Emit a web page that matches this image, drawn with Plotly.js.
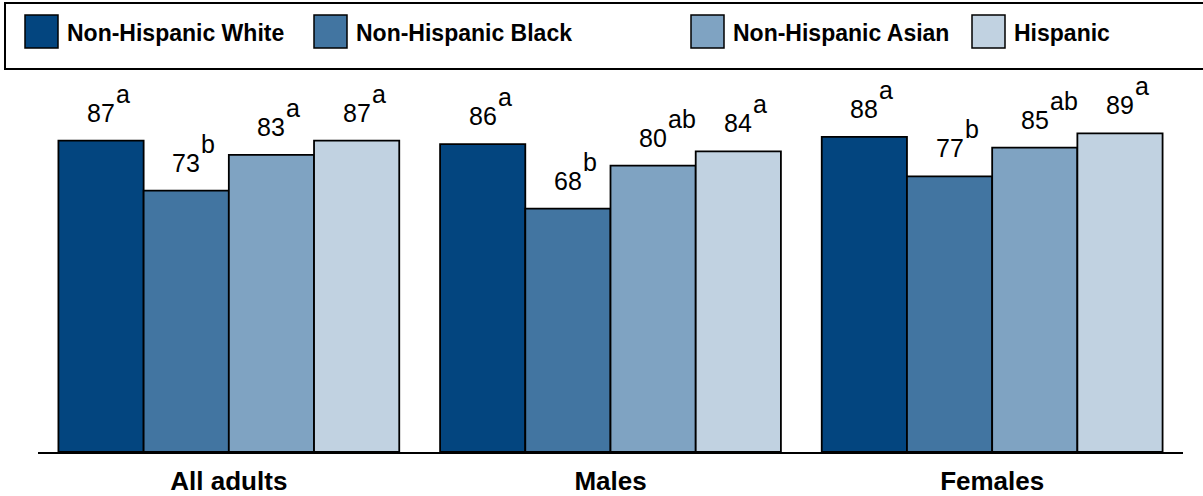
<!DOCTYPE html>
<html>
<head>
<meta charset="utf-8">
<script src="https://cdn.plot.ly/plotly-3.0.1.min.js"></script>
<style>html,body{margin:0;padding:0;background:#fff;}#chart{width:1203px;height:496px;}</style>
</head>
<body>
<div id="chart"></div>
<script>
const categories = ["All adults", "Males", "Females"];
const seriesNames = ["Non-Hispanic White", "Non-Hispanic Black", "Non-Hispanic Asian", "Hispanic"];
const nhWhite = [87, 86, 88];
const nhBlack = [73, 68, 77];
const nhAsian = [83, 80, 85];
const hispanic = [87, 84, 89];
const nhWhiteSig = ["a", "a", "a"];
const nhBlackSig = ["b", "b", "b"];
const nhAsianSig = ["a", "ab", "ab"];
const hispanicSig = ["a", "a", "a"];

const seriesValues = [nhWhite, nhBlack, nhAsian, hispanic];
const seriesSig = [nhWhiteSig, nhBlackSig, nhAsianSig, hispanicSig];
const colors = ["#03457f", "#4275a1", "#7fa3c2", "#c1d2e1"];

const FONT = "Liberation Sans, Arial, sans-serif";
const bargap = 0.107;
const W = 1203, H = 496;
const margin = {l: 38, r: 20, t: 94, b: 44};
const plotW = W - margin.l - margin.r, plotH = H - margin.t - margin.b;
const px2x = px => (px - margin.l) / plotW;
const py2y = py => (H - margin.b - py) / plotH;

const traces = seriesNames.map((name, i) => ({
  type: "bar",
  name: name,
  x: categories,
  y: seriesValues[i],
  marker: {color: colors[i], line: {color: "#000", width: 1.8}},
  hoverinfo: "none",
  showlegend: false
}));

const annotations = [];
const nS = seriesNames.length;
const bw = (1 - bargap) / nS;
seriesValues.forEach((vals, i) => {
  vals.forEach((v, c) => {
    const xpos = c + (i - (nS - 1) / 2) * bw;
    annotations.push({
      x: xpos, y: v, xref: "x", yref: "y",
      text: String(v), showarrow: false,
      xanchor: "center", yanchor: "bottom", yshift: 12,
      font: {family: FONT, size: 25, color: "#000"}
    });
    annotations.push({
      x: xpos, y: v, xref: "x", yref: "y",
      text: seriesSig[i][c], showarrow: false,
      xanchor: "left", yanchor: "bottom", yshift: 31, xshift: 13,
      font: {family: FONT, size: 25, color: "#000"}
    });
  });
});

// custom legend
const shapes = [{
  type: "rect", xref: "paper", yref: "paper",
  x0: px2x(5), x1: px2x(1210), y0: py2y(69), y1: py2y(3),
  line: {color: "#000", width: 2}, fillcolor: "rgba(0,0,0,0)"
}];
const swatchX = [25, 314, 691, 972];
seriesNames.forEach((name, i) => {
  shapes.push({
    type: "rect", xref: "paper", yref: "paper",
    x0: px2x(swatchX[i]), x1: px2x(swatchX[i] + 33), y0: py2y(48), y1: py2y(15),
    line: {color: "#000", width: 1.5}, fillcolor: colors[i]
  });
  annotations.push({
    x: px2x(swatchX[i] + 40), y: py2y(33), xref: "paper", yref: "paper",
    text: name, showarrow: false, xanchor: "left", yanchor: "middle",
    font: {family: FONT, size: 23, color: "#000", weight: "bold"}
  });
});

const layout = {
  width: W, height: H,
  margin: margin,
  paper_bgcolor: "#fff", plot_bgcolor: "#fff",
  barmode: "group", bargap: bargap, bargroupgap: 0,
  showlegend: false,
  xaxis: {
    type: "category", range: [-0.5, 2.5], showline: true, linecolor: "#000", linewidth: 1.5,
    ticks: "", showgrid: false, zeroline: false, automargin: false, ticklabelstandoff: 5,
    tickfont: {family: FONT, size: 26, color: "#000", weight: "bold"}
  },
  yaxis: {range: [0, 100], showgrid: false, zeroline: false, showticklabels: false, showline: false, automargin: false, fixedrange: true},
  annotations: annotations,
  shapes: shapes
};

Plotly.newPlot("chart", traces, layout, {displayModeBar: false, staticPlot: true});
</script>
</body>
</html>
